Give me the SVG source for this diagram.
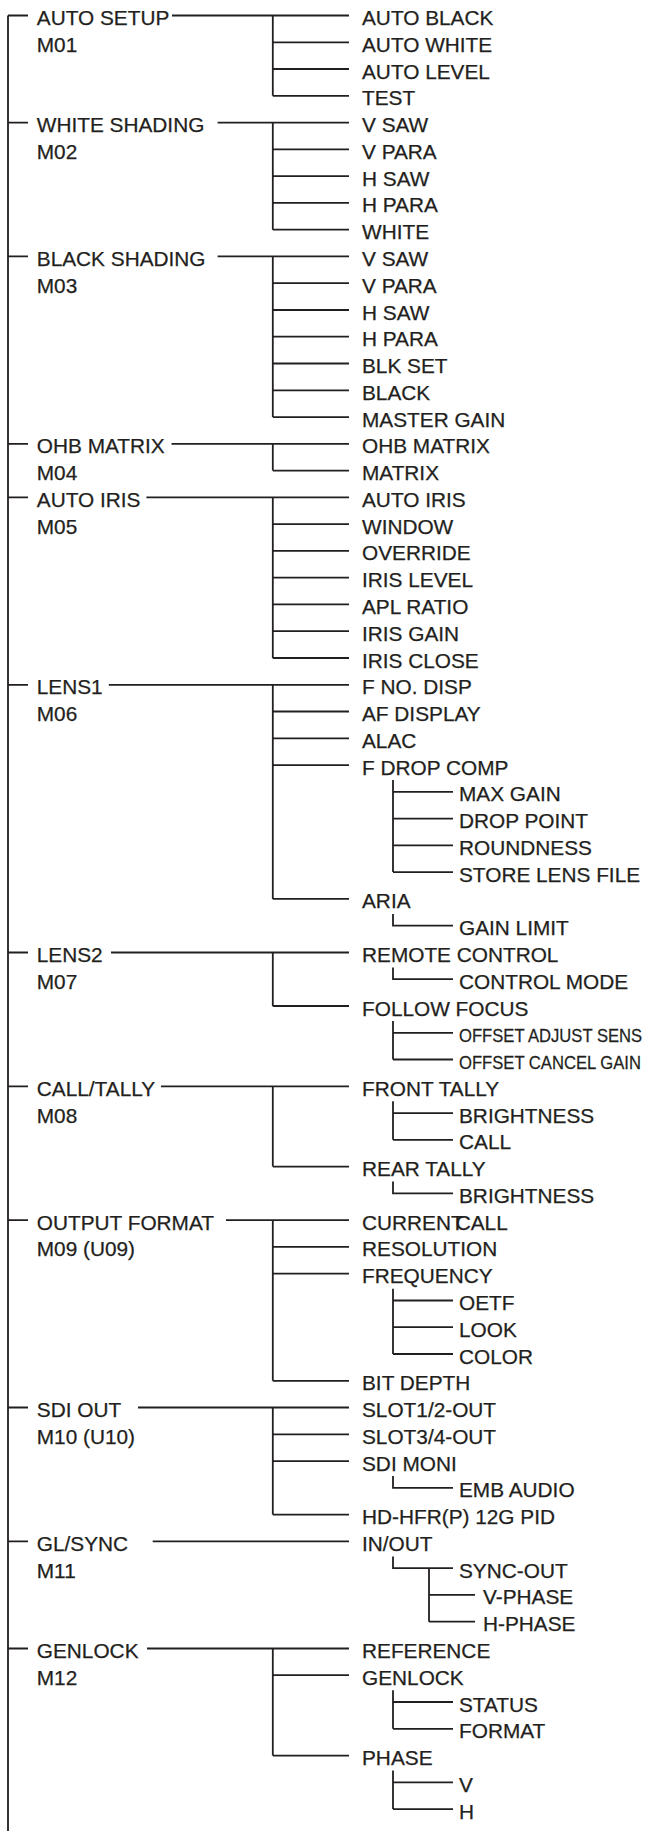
<svg xmlns="http://www.w3.org/2000/svg" width="652" height="1831" viewBox="0 0 652 1831">
<style>
.ln{stroke:#231f20;stroke-width:1.8;fill:none}
text{font-family:"Liberation Sans",Arial,Helvetica,sans-serif;font-size:20.8px;fill:#231f20;stroke:#231f20;stroke-width:0.25}
.sm{font-size:19px}
</style>
<rect width="652" height="1831" fill="#ffffff"/>
<g id="connectors" class="ln">
<path d="M8 15.5 V1831 M8 15.5 H28 M8 122.6 H28 M8 256.4 H28 M8 443.8 H28 M8 497.4 H28 M8 684.8 H28 M8 952.5 H28 M8 1086.3 H28 M8 1220.2 H28 M8 1407.5 H28 M8 1541.4 H28 M8 1648.5 H28"/>
<path d="M172 15.5 H349 M272.8 15.5 V95.8 M272.8 42.3 H349 M272.8 69 H349 M272.8 95.8 H349"/>
<path d="M217.6 122.6 H349 M272.8 122.6 V229.7 M272.8 149.4 H349 M272.8 176.1 H349 M272.8 202.9 H349 M272.8 229.7 H349"/>
<path d="M217.6 256.4 H349 M272.8 256.4 V417.1 M272.8 283.2 H349 M272.8 310 H349 M272.8 336.7 H349 M272.8 363.5 H349 M272.8 390.3 H349 M272.8 417.1 H349"/>
<path d="M171.5 443.8 H349 M272.8 443.8 V470.6 M272.8 470.6 H349"/>
<path d="M146.4 497.4 H349 M272.8 497.4 V658 M272.8 524.1 H349 M272.8 550.9 H349 M272.8 577.7 H349 M272.8 604.4 H349 M272.8 631.2 H349 M272.8 658 H349"/>
<path d="M108.8 684.8 H349 M272.8 684.8 V898.9 M272.8 711.5 H349 M272.8 738.3 H349 M272.8 765.1 H349 M272.8 898.9 H349"/>
<path d="M393 780 V872.1 M393 791.8 H453 M393 818.6 H453 M393 845.4 H453 M393 872.1 H453 M393 913.9 V925.7 H453"/>
<path d="M111 952.5 H349 M272.8 952.5 V1006 M272.8 1006 H349"/>
<path d="M393 967.5 V979.2 H453 M393 1021 V1059.5 M393 1032.8 H453 M393 1059.5 H453"/>
<path d="M161 1086.3 H349 M272.8 1086.3 V1166.6 M272.8 1166.6 H349"/>
<path d="M393 1101.3 V1139.8 M393 1113.1 H453 M393 1139.8 H453 M393 1181.6 V1193.4 H453"/>
<path d="M226 1220.2 H349 M272.8 1220.2 V1380.8 M272.8 1246.9 H349 M272.8 1273.7 H349 M272.8 1380.8 H349"/>
<path d="M393 1288.7 V1354 M393 1300.5 H453 M393 1327.2 H453 M393 1354 H453"/>
<path d="M138 1407.5 H349 M272.8 1407.5 V1514.6 M272.8 1434.3 H349 M272.8 1461.1 H349 M272.8 1514.6 H349"/>
<path d="M393 1476.1 V1487.9 H453"/>
<path d="M152.7 1541.4 H349 M393 1556.4 V1568.2 H453 M429 1568.2 V1621.7 M429 1594.9 H475 M429 1621.7 H475"/>
<path d="M147 1648.5 H349 M272.8 1648.5 V1755.6 M272.8 1675.2 H349 M272.8 1755.6 H349"/>
<path d="M393 1690.2 V1728.8 M393 1702 H453 M393 1728.8 H453 M393 1770.6 V1809.1 M393 1782.3 H453 M393 1809.1 H453"/>
</g>
<g id="m01">
<text x="36.8" y="25">AUTO SETUP</text><text x="36.8" y="51.8">M01</text>
<text x="362" y="25">AUTO BLACK</text><text x="362" y="51.8">AUTO WHITE</text><text x="362" y="78.5">AUTO LEVEL</text><text x="362" y="105.3">TEST</text>
</g>
<g id="m02">
<text x="36.8" y="132.1">WHITE SHADING</text><text x="36.8" y="158.9">M02</text>
<text x="362" y="132.1">V SAW</text><text x="362" y="158.9">V PARA</text><text x="362" y="185.6">H SAW</text><text x="362" y="212.4">H PARA</text><text x="362" y="239.2">WHITE</text>
</g>
<g id="m03">
<text x="36.8" y="265.9">BLACK SHADING</text><text x="36.8" y="292.7">M03</text>
<text x="362" y="265.9">V SAW</text><text x="362" y="292.7">V PARA</text><text x="362" y="319.5">H SAW</text><text x="362" y="346.2">H PARA</text><text x="362" y="373">BLK SET</text><text x="362" y="399.8">BLACK</text><text x="362" y="426.6">MASTER GAIN</text>
</g>
<g id="m04">
<text x="36.8" y="453.3">OHB MATRIX</text><text x="36.8" y="480.1">M04</text>
<text x="362" y="453.3">OHB MATRIX</text><text x="362" y="480.1">MATRIX</text>
</g>
<g id="m05">
<text x="36.8" y="506.9">AUTO IRIS</text><text x="36.8" y="533.6">M05</text>
<text x="362" y="506.9">AUTO IRIS</text><text x="362" y="533.6">WINDOW</text><text x="362" y="560.4">OVERRIDE</text><text x="362" y="587.2">IRIS LEVEL</text><text x="362" y="613.9">APL RATIO</text><text x="362" y="640.7">IRIS GAIN</text><text x="362" y="667.5">IRIS CLOSE</text>
</g>
<g id="m06">
<text x="36.8" y="694.3">LENS1</text><text x="36.8" y="721">M06</text>
<text x="362" y="694.3">F NO. DISP</text><text x="362" y="721">AF DISPLAY</text><text x="362" y="747.8">ALAC</text><text x="362" y="774.6">F DROP COMP</text>
<text x="459" y="801.3">MAX GAIN</text><text x="459" y="828.1">DROP POINT</text><text x="459" y="854.9">ROUNDNESS</text><text x="459" y="881.6">STORE LENS FILE</text>
<text x="362" y="908.4">ARIA</text><text x="459" y="935.2">GAIN LIMIT</text>
</g>
<g id="m07">
<text x="36.8" y="962">LENS2</text><text x="36.8" y="988.7">M07</text>
<text x="362" y="962">REMOTE CONTROL</text><text x="459" y="988.7">CONTROL MODE</text>
<text x="362" y="1015.5">FOLLOW FOCUS</text>
<text class="sm" transform="translate(459 1041.8) scale(0.875 1)">OFFSET ADJUST SENS</text>
<text class="sm" transform="translate(459 1068.6) scale(0.875 1)">OFFSET CANCEL GAIN</text>
</g>
<g id="m08">
<text x="36.8" y="1095.8">CALL/TALLY</text><text x="36.8" y="1122.6">M08</text>
<text x="362" y="1095.8">FRONT TALLY</text><text x="459" y="1122.6">BRIGHTNESS</text><text x="459" y="1149.3">CALL</text>
<text x="362" y="1176.1">REAR TALLY</text><text x="459" y="1202.9">BRIGHTNESS</text>
</g>
<g id="m09">
<text x="36.8" y="1229.7">OUTPUT FORMAT</text><text x="36.8" y="1256.4">M09 (U09)</text>
<text x="362" y="1229.7">CURRENT<tspan dx="-8">CALL</tspan></text><text x="362" y="1256.4">RESOLUTION</text><text x="362" y="1283.2">FREQUENCY</text>
<text x="459" y="1310">OETF</text><text x="459" y="1336.7">LOOK</text><text x="459" y="1363.5">COLOR</text>
<text x="362" y="1390.3">BIT DEPTH</text>
</g>
<g id="m10">
<text x="36.8" y="1417">SDI OUT</text><text x="36.8" y="1443.8">M10 (U10)</text>
<text x="362" y="1417">SLOT1/2-OUT</text><text x="362" y="1443.8">SLOT3/4-OUT</text><text x="362" y="1470.6">SDI MONI</text><text x="459" y="1497.4">EMB AUDIO</text><text x="362" y="1524.1">HD-HFR(P) 12G PID</text>
</g>
<g id="m11">
<text x="36.8" y="1550.9">GL/SYNC</text><text x="36.8" y="1577.7">M11</text>
<text x="362" y="1550.9">IN/OUT</text><text x="459" y="1577.7">SYNC-OUT</text><text x="483" y="1604.4">V-PHASE</text><text x="483" y="1631.2">H-PHASE</text>
</g>
<g id="m12">
<text x="36.8" y="1658">GENLOCK</text><text x="36.8" y="1684.7">M12</text>
<text x="362" y="1658">REFERENCE</text><text x="362" y="1684.7">GENLOCK</text><text x="459" y="1711.5">STATUS</text><text x="459" y="1738.3">FORMAT</text>
<text x="362" y="1765.1">PHASE</text><text x="459" y="1791.8">V</text><text x="459" y="1818.6">H</text>
</g>
</svg>
